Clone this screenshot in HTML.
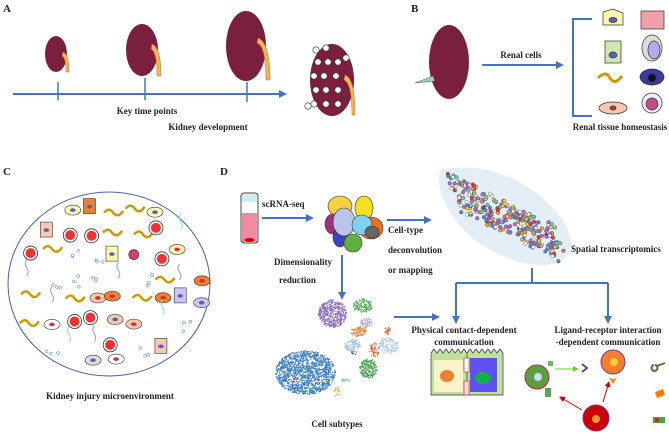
<!DOCTYPE html>
<html><head><meta charset="utf-8"><style>
html,body{margin:0;padding:0;background:#fff;}
svg{display:block}
text{font-family:"Liberation Serif",serif;font-weight:bold;fill:#222}
</style></head><body>
<svg id="s" width="669" height="434" viewBox="0 0 669 434" xmlns="http://www.w3.org/2000/svg">
<defs>
<marker id="ab" markerWidth="8" markerHeight="8" refX="6" refY="4" orient="auto" markerUnits="userSpaceOnUse"><path d="M0,0 L8,4 L0,8 z" fill="#4472c4"/></marker>
<marker id="ar" markerWidth="6" markerHeight="6" refX="5" refY="3" orient="auto" markerUnits="userSpaceOnUse"><path d="M0,0 L6,3 L0,6 z" fill="#c00"/></marker>
<marker id="ag" markerWidth="6" markerHeight="6" refX="5" refY="3" orient="auto" markerUnits="userSpaceOnUse"><path d="M0,0 L6,3 L0,6 z" fill="#6c3"/></marker>
</defs>
<g font-size="11">
<text x="3" y="12">A</text><text x="411" y="12">B</text>
<text x="3" y="175">C</text><text x="220" y="175">D</text>
</g>
<!-- A -->
<g fill="#7a1f3d">
<ellipse cx="56" cy="54" rx="11" ry="18"/>
<ellipse cx="142" cy="50" rx="16" ry="26"/>
<ellipse cx="246" cy="46" rx="20" ry="35"/>
<ellipse cx="332" cy="80" rx="22" ry="36"/>
</g>
<g fill="#f6b15a" stroke="#b07020" stroke-width="0.5">
<path d="M63,52 q6,2 6,20 l-3,0 q0,-14 -4,-16z"/>
<path d="M152,44 q9,3 9,32 l-4,0 q0,-24 -6,-27z"/>
<path d="M258,38 q12,4 12,42 l-4,0 q0,-34 -9,-37z"/>
<path d="M345,75 q10,3 10,40 l-3,0 q0,-32 -8,-35z"/>
</g>
<g fill="#fff" stroke="#333" stroke-width="0.6" id="holes"></g>
<line x1="13" y1="94" x2="285" y2="94" stroke="#4472c4" stroke-width="2" marker-end="url(#ab)"/>
<g stroke="#4472c4" stroke-width="1.5"><line x1="58" y1="82" x2="58" y2="100"/><line x1="145" y1="78" x2="145" y2="100"/><line x1="247" y1="82" x2="247" y2="102"/></g>
<g font-size="9"><text x="147" y="114" text-anchor="middle">Key time points</text><text x="208" y="130" text-anchor="middle">Kidney  development</text></g>
<!-- B -->
<ellipse cx="449" cy="62" rx="20" ry="37" fill="#7a1f3d"/>
<path d="M415,83 l18,-7 l2,5 z" fill="#9cc" stroke="#555" stroke-width="0.5"/>
<line x1="482" y1="65" x2="562" y2="65" stroke="#4472c4" stroke-width="2" marker-end="url(#ab)"/>
<text x="521" y="58" font-size="9" text-anchor="middle">Renal  cells</text>
<path d="M592,19 H573 V116 H592" fill="none" stroke="#4472c4" stroke-width="2"/>
<g stroke="#333" stroke-width="0.7">
<path d="M603,12 l10,-3 l10,4 v12 h-20z" fill="#fff7b0"/><ellipse cx="613" cy="20" rx="4" ry="2.5" fill="#5560c0"/>
<rect x="641" y="11" width="23" height="18" fill="#f0a0a8"/>
<rect x="605" y="41" width="16" height="22" fill="#cfe8b0"/><ellipse cx="613" cy="55" rx="4" ry="3" fill="#5560c0"/>
<ellipse cx="652" cy="48" rx="10" ry="13" fill="#ddd"/><ellipse cx="654" cy="50" rx="6" ry="9" fill="#b8a8f0"/>
<path d="M598,78 q8,-8 12,0 q5,8 12,-2" fill="none" stroke="#c90" stroke-width="3"/>
<ellipse cx="652" cy="77" rx="12" ry="8" fill="#3a3aa0"/><circle cx="652" cy="78" r="4" fill="#112"/>
<ellipse cx="613" cy="108" rx="14" ry="6" fill="#f7c8b0"/><ellipse cx="613" cy="108" rx="3" ry="2" fill="#c33"/>
<circle cx="652" cy="103" r="10" fill="#eef"/><circle cx="652" cy="104" r="6" fill="#c05080"/>
</g>
<text x="620" y="130" font-size="9" text-anchor="middle">Renal tissue homeostasis</text>
<!-- C -->
<ellipse cx="109" cy="284" rx="101" ry="92" fill="#fff" stroke="#4a5fa0" stroke-width="1"/>
<g id="cmix"></g>
<text x="110" y="399" font-size="9" text-anchor="middle">Kidney  injury  microenvironment</text>
<!-- D -->
<rect x="241" y="193" width="17" height="50" rx="3" fill="#fff" stroke="#444"/>
<rect x="242" y="213" width="15" height="29" fill="#f28aa6"/><ellipse cx="249.5" cy="240" rx="5" ry="2" fill="#d00"/>
<rect x="242" y="194" width="15" height="8" fill="#cdeef5"/>
<text x="262" y="207" font-size="9">scRNA-seq</text>
<line x1="262" y1="218" x2="312" y2="218" stroke="#4472c4" stroke-width="2" marker-end="url(#ab)"/>
<g stroke="#333" stroke-width="0.6">
<ellipse cx="340" cy="206" rx="12" ry="10" fill="#f2d040"/>
<ellipse cx="364" cy="208" rx="9" ry="12" fill="#f5e020"/>
<ellipse cx="371" cy="228" rx="12" ry="11" fill="#f07020"/>
<ellipse cx="333" cy="224" rx="8" ry="10" fill="#a03080"/>
<ellipse cx="340" cy="237" rx="7" ry="10" fill="#4040c0"/>
<ellipse cx="353" cy="243" rx="9" ry="9" fill="#60b040"/>
<ellipse cx="344" cy="222" rx="11" ry="14" fill="#b8c4e8"/>
<ellipse cx="362" cy="225" rx="10" ry="10" fill="#80d0f0"/>
<ellipse cx="372" cy="232" rx="7" ry="6" fill="#666"/>
</g>
<line x1="387" y1="220" x2="430" y2="220" stroke="#4472c4" stroke-width="2" marker-end="url(#ab)"/>
<g font-size="9"><text x="388" y="233">Cell-type</text><text x="388" y="253">deconvolution</text><text x="388" y="273">or  mapping</text>
<text x="274" y="265">Dimensionality</text><text x="279" y="283">reduction</text>
<text x="571" y="252">Spatial  transcriptomics</text>
<text x="464" y="333" text-anchor="middle">Physical contact-dependent</text><text x="464" y="345" text-anchor="middle">communication</text>
<text x="608" y="333" text-anchor="middle">Ligand-receptor interaction</text><text x="608" y="345" text-anchor="middle">-dependent communication</text>
<text x="337" y="427" text-anchor="middle">Cell  subtypes</text></g>
<path d="M440,170 q60,-12 110,35 q25,25 20,45 q-10,22 -50,12 q-50,-15 -70,-50 q-15,-25 -10,-42z" fill="#dceaf5" opacity="0.8"/>
<g id="spat"></g>
<line x1="342" y1="255" x2="342" y2="298" stroke="#4472c4" stroke-width="2" marker-end="url(#ab)"/>
<g id="tsne"></g>
<line x1="394" y1="317" x2="438" y2="317" stroke="#4472c4" stroke-width="2" marker-end="url(#ab)"/>
<line x1="532" y1="268" x2="532" y2="282" stroke="#4472c4" stroke-width="2"/>
<path d="M456,283 H608" stroke="#4472c4" stroke-width="2" fill="none"/>
<line x1="456" y1="283" x2="456" y2="322" stroke="#4472c4" stroke-width="2" marker-end="url(#ab)"/>
<line x1="608" y1="283" x2="608" y2="322" stroke="#4472c4" stroke-width="2" marker-end="url(#ab)"/>
<!-- contact cells -->
<g stroke="#333" stroke-width="0.7">
<path d="M431,353 l3,-4 l3,4 l3,-4 l3,4 l3,-4 l3,4 l3,-4 l3,4 l3,-4 l3,4 l3,-4 l3,4 l3,-4 l3,4 l3,-4 l3,4 l3,-4 l3,4 l3,-4 l3,4 l3,-4 l3,4 l3,-4 l3,4 V395 H431z" fill="#bfe0a0"/>
<rect x="434" y="360" width="29" height="32" fill="#fdf3c8" stroke="none"/>
<rect x="470" y="358" width="27" height="34" fill="#6050f0" stroke="none"/>
<line x1="467" y1="352" x2="467" y2="395"/>
<ellipse cx="447" cy="376" rx="7" ry="6" fill="#f08030" stroke="none"/>
<ellipse cx="483" cy="378" rx="8" ry="6" fill="#10b050" stroke="none"/>
<rect x="464" y="358" width="5" height="14" fill="#fff" stroke="#c33"/>
<rect x="464" y="381" width="5" height="14" fill="#fdd" stroke="#c33"/>
</g>
<!-- ligand receptor -->
<line x1="555" y1="369" x2="578" y2="369" stroke="#6c3" stroke-width="1" marker-end="url(#ag)"/>
<line x1="582" y1="410" x2="560" y2="397" stroke="#c00" stroke-width="1" marker-end="url(#ar)"/>
<line x1="603" y1="402" x2="609" y2="382" stroke="#c00" stroke-width="1" marker-end="url(#ar)"/>
<circle cx="537" cy="377" r="12" fill="#5aa040" stroke="#c22" stroke-width="1"/><circle cx="538" cy="377" r="4" fill="#cde"/>
<circle cx="613" cy="362" r="12" fill="#f08030" stroke="#739" stroke-width="1"/><circle cx="614" cy="362" r="4" fill="#fc3"/>
<circle cx="596" cy="418" r="13" fill="#c00" stroke="#739" stroke-width="1"/><circle cx="596" cy="419" r="4" fill="#f93"/>
<rect x="548" y="361" width="5" height="5" fill="#6b5"/>
<path d="M582,364 l5,4 l-5,4" fill="none" stroke="#555" stroke-width="2"/>
<path d="M608,376 q5,6 10,0 l-5,8z" fill="#f80"/>
<rect x="545" y="388" width="6" height="9" fill="#5a5"/>
<path d="M657,366 l8,-3 M654,365 a3,3 0 1,0 1,0" stroke="#664" stroke-width="2" fill="none"/>
<path d="M655,392 l8,-3 l2,6 l-8,3z" fill="#f70"/>
<rect x="653" y="417" width="12" height="6" fill="#4a4" /><rect x="655" y="418" width="4" height="4" fill="#d22"/>
</svg>
<script>
(function(){
var NS="http://www.w3.org/2000/svg";
var seed=11;function r(){seed=(seed*16807)%2147483647;return seed/2147483647;}
function el(p,t,a){var e=document.createElementNS(NS,t);for(var k in a)e.setAttribute(k,a[k]);p.appendChild(e);return e;}
var h=document.getElementById("holes");
[[316,50],[326,48],[318,62],[328,62],[338,62],[314,76],[324,76],[336,76],[316,90],[326,90],[338,90],[314,104],[326,104],[338,104],[308,106],[346,58]].forEach(function(p){el(h,"circle",{cx:p[0],cy:p[1],r:3.2});});
var c=document.getElementById("cmix");
var cols=["#f7c8b0","#f7c8b0","#cfe8b0","#fff7b0","#c8c8f0","#f08030","#ddd","#fff"];
for(var gx=0;gx<9;gx++)for(var gy=0;gy<8;gy++){
 var x=22+gx*22+r()*10,y=205+gy*22+r()*10;
 var dx=(x-109)/95,dy=(y-284)/86; if(dx*dx+dy*dy>1)continue;
 var t=r();
 if(t<0.2){for(var q=0;q<3;q++)el(c,"circle",{cx:x+r()*12,cy:y+r()*12,r:1.5,fill:"#e8f4f8",stroke:"#48a",'stroke-width':0.5});}
 else if(t<0.35)el(c,"path",{d:"M"+x+","+y+" q3,-4 0,-8 q-3,-4 0,-8",fill:"none",stroke:r()<0.5?"#a8f":"#8dd",'stroke-width':1});
 else if(t<0.48)el(c,"path",{d:"M"+(x-8)+","+y+" q5,-6 9,0 q5,6 10,-2",fill:"none",stroke:"#c90",'stroke-width':2.5});
 else if(t<0.56){el(c,"circle",{cx:x,cy:y,r:7,fill:"#fff",stroke:"#333",'stroke-width':0.8});el(c,"circle",{cx:x,cy:y,r:5,fill:"#e33"});}
 else if(t<0.62){el(c,"circle",{cx:x,cy:y,r:5,fill:"#d04070",stroke:"#222",'stroke-width':0.6});}
 else {var cc=cols[Math.floor(r()*cols.length)];
  if(r()<0.3){el(c,"rect",{x:x-6,y:y-8,width:12,height:15,fill:cc,stroke:"#333",'stroke-width':0.6});}
  else el(c,"ellipse",{cx:x,cy:y,rx:8,ry:5,fill:cc,stroke:"#333",'stroke-width':0.6});
  el(c,"ellipse",{cx:x,cy:y,rx:2.8,ry:1.8,fill:r()<0.5?"#c33":"#5560c0"});}
}
var s=document.getElementById("spat");var sc=["#e33","#fc3","#58c","#a6e","#6cd","#fff","#f93","#9c6","#c6c","#fff"];
for(var i=0;i<300;i++){var u=r(),v=r();var x=445+u*110+v*15,y=170+u*55+v*42;
 if(y>262)continue;
 el(s,"circle",{cx:x,cy:y,r:1.8,fill:sc[Math.floor(r()*sc.length)],stroke:"#444",'stroke-width':0.4});}
var tg=document.getElementById("tsne");
var cl=[[305,372,30,22,"#3a7ec0",1400],[332,313,14,14,"#8a6cc0",450],[362,305,10,7,"#5bb05a",150],[352,345,8,6,"#9fc6e0",100],[366,322,6,5,"#b9a7d8",60],[358,331,8,5,"#f0803a",80],[388,345,10,8,"#a9cbe3",120],[368,368,9,10,"#4aa050",200],[374,349,5,7,"#e86020",50],[387,330,3,4,"#e86020",25],[345,380,5,2,"#9c9",20],[336,392,3,5,"#f93",15],[354,352,3,2,"#666",10]];
cl.forEach(function(k){for(var j=0;j<k[5];j++){var a=r()*6.283,d=Math.sqrt(r());el(tg,"rect",{x:k[0]+Math.cos(a)*d*k[2],y:k[1]+Math.sin(a)*d*k[3],width:1.2,height:1.2,fill:k[4]});}});
})();
</script>
</body></html>
